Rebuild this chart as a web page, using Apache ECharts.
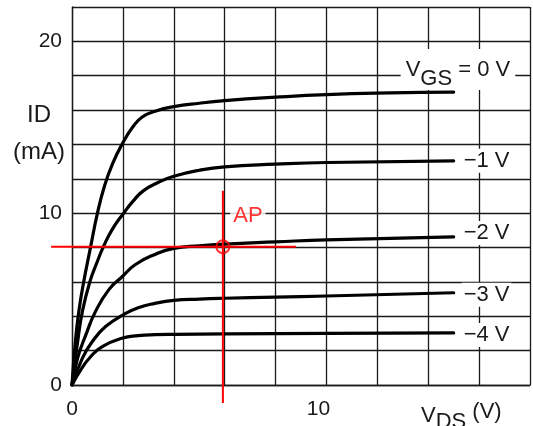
<!DOCTYPE html>
<html><head><meta charset="utf-8">
<script src="https://cdn.jsdelivr.net/npm/echarts@6/dist/echarts.min.js"></script>
<style>html,body{margin:0;padding:0;background:#fff}#c{width:533px;height:426px}</style>
</head><body><div id="c"></div>
<script>
// Hand-read data: [V_DS (V), I_D (mA)]
const curveVgs0 = [[0,0],[0.13,2.5],[0.27,4.3],[0.46,6.0],[0.74,8.1],[1.0,10.0],[1.28,11.6],[1.6,12.9],[2.0,14.1],[2.38,15.0],[2.76,15.6],[3.3,15.95],[4.0,16.2],[5.0,16.4],[6.0,16.55],[8.0,16.75],[10.0,16.9],[12.5,17.0],[15,17.05]];
const curveVgs1 = [[0,0],[0.22,2.5],[0.41,4.3],[0.7,6.0],[1.0,7.2],[1.25,8.1],[1.6,9.1],[2.03,10.0],[2.4,10.7],[2.8,11.3],[3.4,11.8],[4.0,12.15],[5.0,12.5],[6.0,12.7],[8.0,12.85],[10,12.95],[15,13.05]];
const curveVgs2 = [[0,0],[0.22,1.56],[0.54,2.9],[0.93,4.3],[1.45,5.55],[1.97,6.3],[2.48,7.0],[3.26,7.6],[4.0,7.95],[5.0,8.1],[6,8.2],[8,8.33],[10,8.45],[15,8.62]];
const curveVgs3 = [[0,0],[0.41,1.56],[0.8,2.53],[1.32,3.4],[2.03,4.1],[2.6,4.5],[3.26,4.75],[4.0,4.92],[5,5.0],[6,5.05],[8,5.12],[10,5.18],[15,5.37]];
const curveVgs4 = [[0,0],[0.35,0.9],[0.74,1.66],[1.19,2.24],[1.96,2.72],[2.6,2.87],[3.26,2.93],[4.0,2.95],[6,2.97],[10,3.0],[15,3.03]];
const curveLabels = ['{n|V}{s|GS}{n| = 0 V}', '−1 V', '−2 V', '−3 V', '−4 V'];
const xTickLabels = {0: '0', 10: '{s|10}'};
const yTickLabels = {0: '0', 10: '10', 20: '20'};
const apPoint = [5.93, 8.05];
// crosshair segments: [x1, y1, x2, y2] in data units
const apSegments = [[5.93, 11.3, 5.93, -1.05], [-0.82, 8.05, 8.8, 8.05]];
const apLabel = 'AP';

const FONT = "'Liberation Sans', Arial, sans-serif";
const INK = '#1a1a1a';
const RED = '#ff0000';
const curves = [curveVgs0, curveVgs1, curveVgs2, curveVgs3, curveVgs4];
const labelOffsets = [[-53, -22.5], [0, 0], [0, -4], [0, 2], [0, 2]];

const chart = echarts.init(document.getElementById('c'), null, {renderer: 'canvas'});
const series = curves.map((d, i) => ({
  type: 'line', data: d, showSymbol: false, smooth: 0.5,
  lineStyle: {color: '#000', width: 3.2, join: 'round', cap: 'round'}, z: 3,
  endLabel: {
    show: true, formatter: curveLabels[i], distance: i === 0 ? 0 : 8,
    offset: labelOffsets[i], color: INK, fontFamily: FONT, fontSize: 22,
    backgroundColor: '#fff', padding: i === 0 ? [0, 5] : [1, 2],
    rich: {
      n: {fontFamily: FONT, fontSize: 22, color: INK},
      s: {fontFamily: FONT, fontSize: 22, color: INK, padding: [19, 0, 0, 0]}
    }
  }
}));
series.push({
  type: 'custom', data: apSegments, clip: false, z: 6,
  renderItem: (params, api) => {
    const p1 = api.coord([api.value(0), api.value(1)]);
    const p2 = api.coord([api.value(2), api.value(3)]);
    return {type: 'line', shape: {x1: p1[0], y1: p1[1], x2: p2[0], y2: p2[1]},
      style: {stroke: RED, lineWidth: 2}};
  },
  encode: {x: [0, 2], y: [1, 3]}
});
series.push({
  type: 'scatter', data: [apPoint], symbol: 'circle', symbolSize: 13, z: 7,
  itemStyle: {color: 'rgba(0,0,0,0)', borderColor: RED, borderWidth: 2},
  label: {show: true, formatter: apLabel, position: 'inside', offset: [25, -31],
    color: RED, fontFamily: FONT, fontSize: 22, backgroundColor: '#fff', padding: [0, 3]}
});

chart.setOption({
  animation: false,
  backgroundColor: '#fff',
  grid: {left: 72, top: 7, width: 464.4, height: 378, containLabel: false},
  xAxis: {
    type: 'value', min: 0, max: 18, interval: 2,
    axisLine: {show: true, lineStyle: {color: INK, width: 1.3}},
    axisTick: {show: false},
    splitLine: {show: true, lineStyle: {color: INK, width: 1.3}},
    axisLabel: {
      margin: 14, fontSize: 21, fontFamily: FONT, color: INK,
      formatter: v => xTickLabels[v] || '',
      rich: {s: {fontSize: 21, fontFamily: FONT, color: INK, padding: [0, 16, 0, 0]}}
    }
  },
  yAxis: {
    type: 'value', min: 0, max: 22, interval: 2,
    axisLine: {show: true, lineStyle: {color: INK, width: 1.3}},
    axisTick: {show: false},
    splitLine: {show: true, lineStyle: {color: INK, width: 1.3}},
    axisLabel: {
      margin: 10, fontSize: 21, fontFamily: FONT, color: INK,
      formatter: v => yTickLabels[v] || ''
    }
  },
  graphic: [
    {type: 'text', left: 27, top: 103, style: {text: 'ID', fontSize: 24, fontFamily: FONT, fill: INK}},
    {type: 'text', left: 13, top: 140, style: {text: '(mA)', fontSize: 24, fontFamily: FONT, fill: INK}},
    {type: 'text', x: 421, y: 412, style: {
      text: '{v|V}{s|DS}{n| (V)}', verticalAlign: 'middle', align: 'left',
      rich: {
        v: {fontSize: 22, fontFamily: FONT, fill: INK, color: INK, padding: [8, 0, 0, 0]},
        s: {fontSize: 22, fontFamily: FONT, fill: INK, color: INK, padding: [20, 0, 0, 0]},
        n: {fontSize: 22, fontFamily: FONT, fill: INK, color: INK}
      }
    }}
  ],
  series: series
});
</script>
</body></html>
